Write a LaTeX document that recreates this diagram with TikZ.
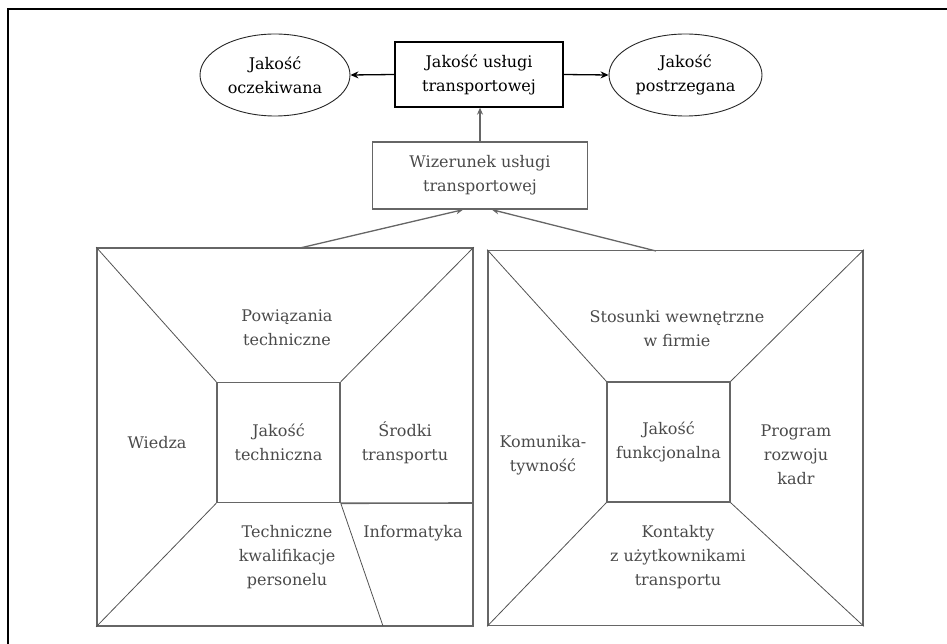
\documentclass[tikz,border=0pt]{standalone}
\usepackage{fontspec}
\setmainfont{DejaVu Serif}
\usetikzlibrary{arrows.meta,shapes.geometric}
\definecolor{lg}{HTML}{666666}
\definecolor{tg}{HTML}{4A4A4A}
\tikzset{
  txt/.style={font=\fontsize{16}{24}\selectfont, align=center, inner sep=0pt},
  gtxt/.style={txt, text=tg},
  ell/.style={ellipse, draw=black!85, line width=0.9pt, minimum height=82pt, txt},
  topbox/.style={draw=black, line width=1.3pt, minimum width=168pt, minimum height=65pt, txt},
  wbox/.style={draw=lg, line width=1.4pt, minimum width=215pt, minimum height=67pt, gtxt},
  bigsq/.style={draw=lg, line width=1.6pt, inner sep=0pt},
  insq/.style={draw=lg, line width=1.5pt, inner sep=0pt, minimum width=123pt, minimum height=120pt},
  diag/.style={draw=lg!80!black, line width=0.8pt},
  blk/.style={draw=black, line width=1.3pt, -{Stealth[length=8pt,width=7pt]}},
  garr/.style={draw=lg, line width=1.3pt, -{Stealth[length=7pt,width=6pt]}},
  frame/.style={draw=black, line width=1.2pt}
}
\begin{document}
\begin{tikzpicture}[x=1pt,y=-1pt]
\useasboundingbox (0,0) rectangle (947,644);
% outer frame (cropped)
\coordinate (fb) at (8,644);
\coordinate (ftl) at (8,9);
\coordinate (fr) at (947,9);
\draw[frame] (fb) -- (ftl) -- (fr);

% top row
\node[ell, minimum width=150pt] (eL) at (275,75) {Jakość\\oczekiwana};
\node[topbox] (T) at (479,74.5) {Jakość usługi\\transportowej};
\node[ell, minimum width=153pt] (eR) at (685.5,75) {Jakość\\postrzegana};
\draw[blk] (T.west) -- (eL.east);
\draw[blk] (T.east) -- (eR.west);

% Wizerunek
\node[wbox] (W) at (480,175.5) {Wizerunek usługi\\transportowej};
\draw[garr] (W.north) -- (W.north |- T.south);

% left square
\node[bigsq, minimum width=376pt, minimum height=378pt] (L) at (285,437) {};
\node[insq] (Li) at (278.5,442.5) {};
\coordinate (Lh) at (473,503);
\coordinate (Lb) at (383,626);
\draw[diag] (L.north west) -- (Li.north west);
\draw[diag] (L.north east) -- (Li.north east);
\draw[diag] (L.south west) -- (Li.south west);
\draw[bigsq] (Li.south east) -- (Lh);
\draw[diag] (Li.south east) -- (Lb);

\node[gtxt] (l1) at (287,328) {Powiązania\\techniczne};
\node[gtxt] (l2) at (157,443) {Wiedza};
\node[gtxt] (l3) at (Li.center) {Jakość\\techniczna};
\node[gtxt] (l4) at (405,443) {Środki\\transportu};
\node[gtxt] (l5) at (287,557) {Techniczne\\kwalifikacje\\personelu};
\node[gtxt] (l6) at (413,533) {Informatyka};

% right square
\node[bigsq, minimum width=375pt, minimum height=375pt] (R) at (675.5,438) {};
\node[insq] (Ri) at (668.5,442) {};
\draw[diag] (R.north west) -- (Ri.north west);
\draw[diag] (R.north east) -- (Ri.north east);
\draw[diag] (R.south west) -- (Ri.south west);
\draw[diag] (R.south east) -- (Ri.south east);

\node[gtxt] (r1) at (677,329) {Stosunki wewnętrzne\\w firmie};
\node[gtxt] (r2) at (543,455) {Komunika-\\tywność};
\node[gtxt] (r3) at (Ri.center) {Jakość\\funkcjonalna};
\node[gtxt] (r4) at (796,455) {Program\\rozwoju\\kadr};
\node[gtxt] (r5) at (678,557) {Kontakty\\z użytkownikami\\transportu};

% connectors to Wizerunek
\coordinate (Ls) at (300,248);
\coordinate (Rs) at (656,251);
\coordinate (Wl) at ([xshift=-17pt]W.south);
\coordinate (Wr) at ([xshift=12pt]W.south);
\draw[garr] (Ls) -- (Wl);
\draw[garr] (Rs) -- (Wr);
\end{tikzpicture}
\end{document}
